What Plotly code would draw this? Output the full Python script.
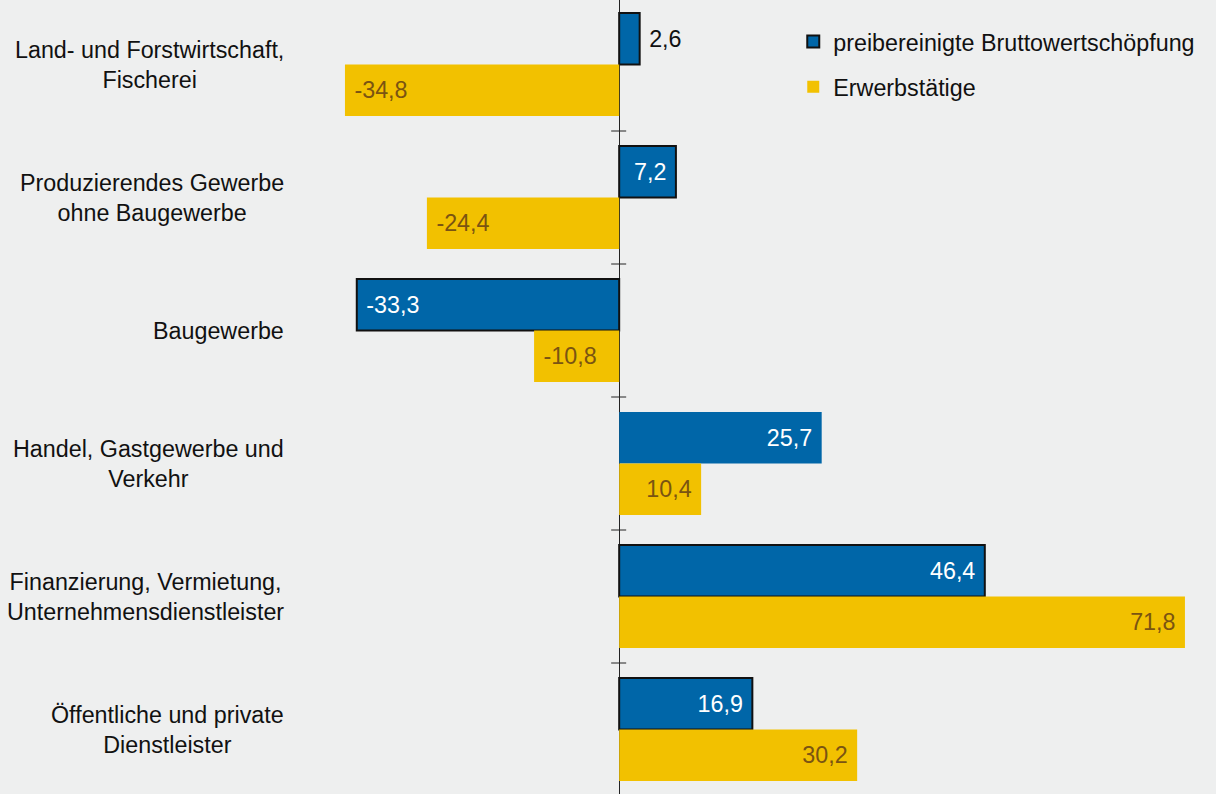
import plotly.graph_objects as go

categories = [
    "Land- und Forstwirtschaft,<br>Fischerei",
    "Produzierendes Gewerbe<br>ohne Baugewerbe",
    "Baugewerbe",
    "Handel, Gastgewerbe und<br>Verkehr",
    "Finanzierung, Vermietung,<br>Unternehmensdienstleister",
    "Öffentliche und private<br>Dienstleister",
]
bws_values = [2.6, 7.2, -33.3, 25.7, 46.4, 16.9]
erw_values = [-34.8, -24.4, -10.8, 10.4, 71.8, 30.2]
bws_outline = [2, 2, 2, 0, 2, 2]

series_names = ["preibereinigte Bruttowertschöpfung", "Erwerbstätige"]

BLUE = "#0066a8"
YELLOW = "#f2c100"
BROWN = "#7a5412"
BG = "#eeefef"
FONT = "Liberation Sans, Arial, sans-serif"
FS = 23.3

fig = go.Figure()
fig.add_trace(go.Bar(
    y=categories, x=bws_values, orientation="h", name=series_names[0],
    marker=dict(color=BLUE, line=dict(color="#111111", width=bws_outline)),
    texttemplate="\u00a0%{x:.1f}\u00a0", textposition="auto",
    insidetextanchor="end", constraintext="none",
    insidetextfont=dict(color="white", size=FS, family=FONT),
    outsidetextfont=dict(color="#111111", size=FS, family=FONT),
    legendgroup="a", cliponaxis=False,
))
fig.add_trace(go.Bar(
    y=categories, x=erw_values, orientation="h", name=series_names[1],
    marker=dict(color=YELLOW, line=dict(width=0)),
    texttemplate="\u00a0%{x:.1f}\u00a0", textposition="auto",
    insidetextanchor="end", constraintext="none",
    insidetextfont=dict(color=BROWN, size=FS, family=FONT),
    outsidetextfont=dict(color=BROWN, size=FS, family=FONT),
    legendgroup="b", cliponaxis=False,
))

for i, c in enumerate(categories):
    fig.add_annotation(
        x=0, xref="paper", xanchor="right", xshift=-9,
        y=c, yref="y", text=c, showarrow=False, align="center",
        font=dict(size=FS, color="#111111", family=FONT),
    )

for i in range(len(categories) - 1):
    fig.add_shape(
        type="line", xref="x", xsizemode="pixel", xanchor=0, x0=-8, x1=7,
        yref="y", y0=i + 0.5, y1=i + 0.5,
        line=dict(color="#222222", width=1),
    )

fig.update_layout(
    width=1216, height=794,
    margin=dict(l=295, r=0, t=0, b=0),
    paper_bgcolor=BG, plot_bgcolor=BG,
    barmode="group", bargap=0.226, bargroupgap=0,
    separators=",.",
    font=dict(family=FONT, size=FS, color="#111111"),
    showlegend=True,
    legend=dict(x=0.541, xanchor="left", y=0.975, yanchor="top",
                bgcolor="rgba(0,0,0,0)", tracegroupgap=12,
                font=dict(size=FS, family=FONT, color="#111111")),
    xaxis=dict(range=[-41.14, 75.74], showgrid=False, zeroline=True,
               zerolinecolor="#222222", zerolinewidth=1,
               showticklabels=False, ticks="", fixedrange=True),
    yaxis=dict(range=[5.485, -0.485], showgrid=False, zeroline=False,
               showticklabels=False, ticks="", fixedrange=True),
)

fig.write_html(
    "out.html",
    config={"displayModeBar": False},
    post_script="document.body.style.margin='0';document.body.style.overflow='hidden';",
)
